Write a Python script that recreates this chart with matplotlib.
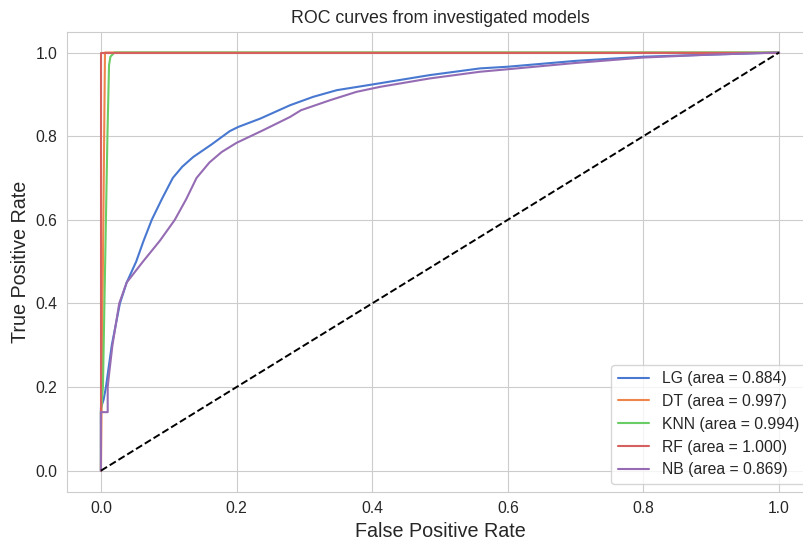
import matplotlib
matplotlib.use('Agg')
import matplotlib.pyplot as plt
import seaborn as sns

sns.set_style('whitegrid')
plt.rcParams['font.family'] = ['Liberation Sans', 'DejaVu Sans']

# ROC points
lg_fpr = [0.0, 0.0, 0.004, 0.0074, 0.016, 0.028, 0.038, 0.052, 0.063, 0.075, 0.09, 0.106,
          0.12, 0.136, 0.163, 0.19, 0.2025, 0.235, 0.279, 0.313, 0.348, 0.402, 0.485,
          0.559, 0.6, 0.7, 0.8, 0.9, 1.0]
lg_tpr = [0.0, 0.15, 0.17, 0.2, 0.3, 0.4, 0.45, 0.5, 0.55, 0.6, 0.65, 0.7,
          0.727, 0.75, 0.78, 0.812, 0.822, 0.842, 0.874, 0.894, 0.91, 0.924, 0.946,
          0.962, 0.966, 0.98, 0.99, 0.995, 1.0]

dt_fpr = [0.0, 0.006, 1.0]
dt_tpr = [0.0, 1.0, 1.0]

knn_fpr = [0.0, 0.0, 0.003, 0.0096, 0.012, 0.014, 0.02, 1.0]
knn_tpr = [0.0, 0.14, 0.2, 0.8, 0.97, 0.99, 1.0, 1.0]

rf_fpr = [0.0, 0.0, 1.0]
rf_tpr = [0.0, 1.0, 1.0]

nb_fpr = [0.0, 0.0, 0.01, 0.01, 0.012, 0.017, 0.027, 0.038, 0.062, 0.087, 0.109, 0.126,
          0.141, 0.16, 0.178, 0.2, 0.239, 0.279, 0.295, 0.338, 0.377, 0.412, 0.485,
          0.559, 0.6, 0.7, 0.8, 0.9, 1.0]
nb_tpr = [0.0, 0.14, 0.14, 0.2, 0.23, 0.3, 0.4, 0.45, 0.5, 0.55, 0.6, 0.65,
          0.7, 0.737, 0.762, 0.784, 0.814, 0.846, 0.862, 0.886, 0.906, 0.918, 0.938,
          0.954, 0.96, 0.975, 0.988, 0.995, 1.0]

models = ['LG', 'DT', 'KNN', 'RF', 'NB']
aucs = [0.884, 0.997, 0.994, 1.000, 0.869]
curves = [(lg_fpr, lg_tpr), (dt_fpr, dt_tpr), (knn_fpr, knn_tpr),
          (rf_fpr, rf_tpr), (nb_fpr, nb_tpr)]
colors = ['#4878d0', '#ee854a', '#6acc64', '#d65f5f', '#956cb4']

fig = plt.figure(figsize=(8.04, 5.46), dpi=100)
ax = fig.add_axes([67 / 804, (546 - 491.6) / 546, 746 / 804, 460 / 546])

for name, auc, (fpr, tpr), c in zip(models, aucs, curves, colors):
    ax.plot(fpr, tpr, color=c, linewidth=1.5, label=f'{name} (area = {auc:.3f})')
ax.plot([0, 1], [0, 1], 'k--', linewidth=1.4)

ax.set_xlim(-0.05, 1.05)
ax.set_ylim(-0.05, 1.05)
ax.set_xticks([0.0, 0.2, 0.4, 0.6, 0.8, 1.0])
ax.set_yticks([0.0, 0.2, 0.4, 0.6, 0.8, 1.0])
ax.tick_params(labelsize=11.3, colors='#262626')
ax.set_xlabel('False Positive Rate', fontsize=14.2, color='#262626')
ax.set_ylabel('True Positive Rate', fontsize=14.2, color='#262626')
ax.set_title('ROC curves from investigated models', fontsize=12.8, color='#262626')
ax.legend(loc='lower right', fontsize=11.3)

fig.savefig('out.png', dpi=100)
